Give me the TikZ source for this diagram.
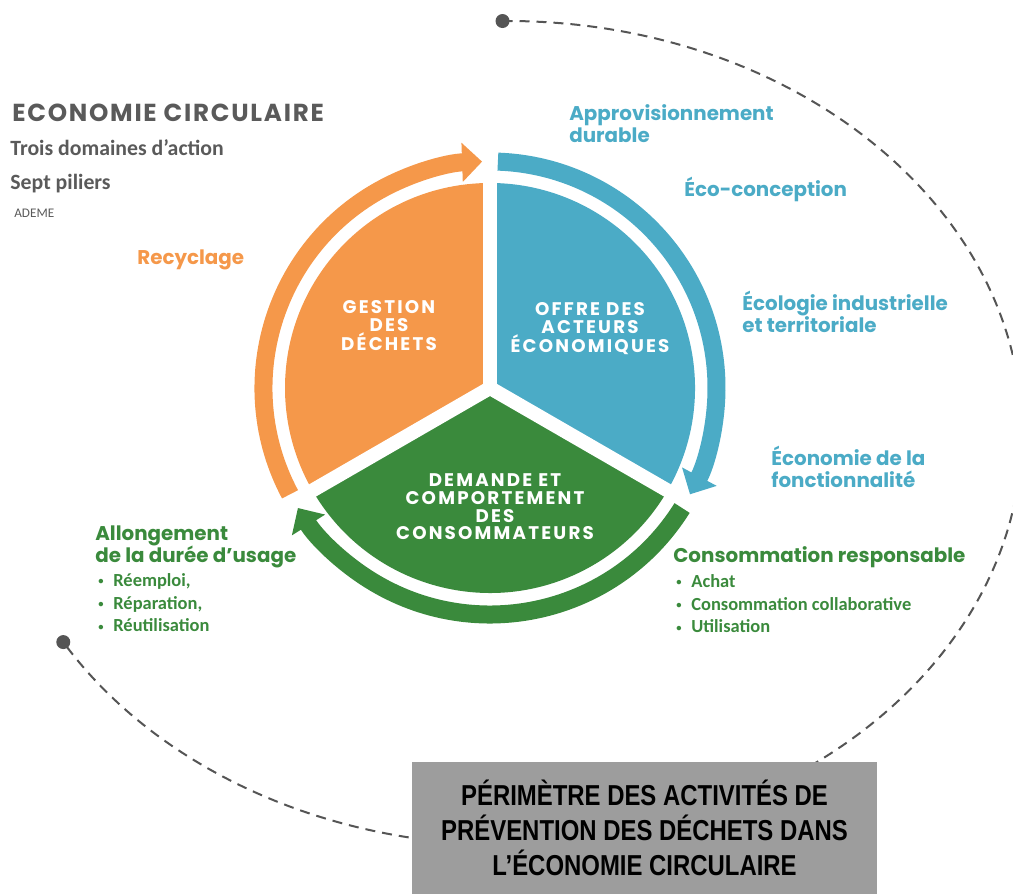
\documentclass[tikz,border=0pt]{standalone}
\usepackage{fontspec}
\setmainfont{Carlito}
\newfontfamily\dispfont{Poppins}
\newfontfamily\titlefont[LetterSpace=7]{Poppins}
\newfontfamily\piefont[LetterSpace=12]{Poppins}
\newfontfamily\boxfont[FakeStretch=0.83]{Liberation Sans}
\usetikzlibrary{arrows.meta,calc,positioning}
\definecolor{orangeC}{HTML}{F5984A}
\definecolor{blueC}{HTML}{4BABC6}
\definecolor{greenC}{HTML}{3A8A3C}
\definecolor{titlegray}{HTML}{5A5A5A}
\definecolor{dashgray}{HTML}{555555}
\definecolor{boxgray}{HTML}{9D9D9D}
\tikzset{
  ring/.style={line width=0.36cm, -{Triangle[width=0.76cm,length=0.4cm]}},
  pielabel/.style={text=white, inner sep=0pt, align=center, anchor=base,
    font=\piefont\bfseries\fontsize{10.4}{10.2}\selectfont},
  heading/.style={inner sep=0pt, align=left, anchor=base west,
    font=\dispfont\bfseries\fontsize{11.3}{12.8}\selectfont},
  items/.style={inner sep=0pt, align=left, anchor=base west,
    font=\bfseries\fontsize{10.5}{13}\selectfont},
  dot/.style={circle, fill=dashgray, inner sep=0pt, minimum size=0.28cm},
}
\newcommand{\itm}[1]{\makebox[0.3cm][l]{\raisebox{0.08em}{\fontsize{6}{6}\selectfont\textbullet}}#1}
\begin{document}
\begin{tikzpicture}
    \useasboundingbox (0,0) rectangle (20.26,17.88);
    \clip (0,0) rectangle (20.26,17.88);
    % dashed perimeter
    \coordinate (ctr) at (10.14,9.22);
    \coordinate (dotA) at ($(ctr)+(90.5:10.3cm and 8.24cm)$);
    \coordinate (dotB) at ($(ctr)+(210.5:10.3cm and 8.24cm)$);
    \draw[dashgray, line width=0.04cm, dash pattern=on 0.2cm off 0.14cm]
        (dotA) arc[start angle=90.5, end angle=-149.5, x radius=10.3, y radius=8.24];
    \node[dot] at (dotA) {};
    \node[dot] at (dotB) {};
    % pie and arrows
    \coordinate (C) at (9.80,10.12);
    \foreach \s/\col in {90/orangeC,-30/blueC,210/greenC}{
        \fill[\col] (C) -- ($(C)+(\s:4.1)$) arc[start angle=\s, end angle=\s+120, radius=4.1] -- cycle;
        \draw[\col, ring] ($(C)+(\s+118:4.53)$) arc[start angle=\s+118, end angle=\s+2, radius=4.53];
    }
    \foreach \s in {90,210,330}
        {\draw[white, line width=0.28cm] (C) -- ($(C)+(\s:4.25)$);}
    \node[pielabel] (gestion) at (7.78,10.86) {GESTION\\DES\\DÉCHETS};
    \node[pielabel] (offre) at (11.80,10.82) {OFFRE DES\\ACTEURS\\ÉCONOMIQUES};
    \node[pielabel] (demande) at (9.90,7.08) {DEMANDE ET\\COMPORTEMENT\\DES\\CONSOMMATEURS};
    % title
    \node[heading, text=titlegray, font=\titlefont\bfseries\fontsize{14}{16}\selectfont] (title) at (0.24,15.44) {ECONOMIE CIRCULAIRE};
    \node[items, text=titlegray, font=\bfseries\fontsize{12.4}{14}\selectfont] (trois) at (0.20,14.76) {Trois domaines d’action};
    \node[items, text=titlegray, font=\bfseries\fontsize{12.4}{14}\selectfont] (sept) at (0.20,14.08) {Sept piliers};
    \node[items, text=titlegray, font=\fontsize{7.5}{8}\selectfont] (ademe) at (0.28,13.52) {ADEME};
    % pillars
    \node[heading, text=orangeC] (recyc) at (2.74,12.58) {Recyclage};
    \node[heading, text=blueC] (appro) at (11.38,15.02) {Approvisionnement\\durable};
    \node[heading, text=blueC] (eco) at (13.68,13.94) {Éco-conception};
    \node[heading, text=blueC] (ecolo) at (14.84,11.22) {Écologie industrielle\\et territoriale};
    \node[heading, text=blueC] (fonct) at (15.42,8.12) {Économie de la\\fonctionnalité};
    \node[heading, text=greenC] (conso) at (13.46,6.62) {Consommation responsable};
    \node[items, text=greenC] (consolist) at (13.52,5.22) {\itm{Achat}\\\itm{Consommation collaborative}\\\itm{Utilisation}};
    \node[heading, text=greenC] (allong) at (1.90,6.62) {Allongement\\de la durée d’usage};
    \node[items, text=greenC] (allonglist) at (1.96,5.24) {\itm{Réemploi,}\\\itm{Réparation,}\\\itm{Réutilisation}};
    % perimeter box
    \node[fill=boxgray, minimum width=9.3cm, minimum height=2.64cm, inner sep=0pt, align=center,
        font=\boxfont\bfseries\fontsize{16.4}{19.9}\selectfont] (perim) at (12.89,1.32)
        {PÉRIMÈTRE DES ACTIVITÉS DE\\PRÉVENTION DES DÉCHETS DANS\\L’ÉCONOMIE CIRCULAIRE};
\end{tikzpicture}
\end{document}
